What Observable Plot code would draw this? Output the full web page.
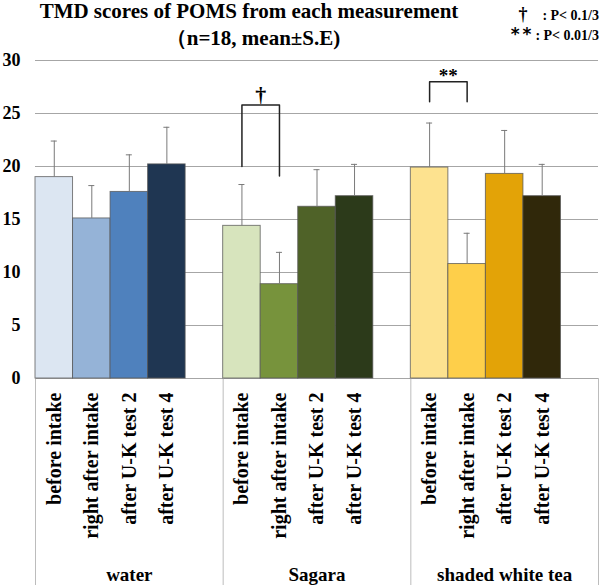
<!DOCTYPE html>
<html><head><meta charset="utf-8">
<script src="https://cdn.jsdelivr.net/npm/d3@7"></script>
<script src="https://cdn.jsdelivr.net/npm/@observablehq/plot@0.6"></script>
<style>
body{margin:0;background:#fff;}
#wrap{width:600px;height:585px;position:relative;font-family:"Liberation Serif","Times New Roman",serif;font-weight:bold;color:#000;overflow:hidden;}
#head{position:relative;width:600px;height:50px;}
.t{position:absolute;white-space:nowrap;}
#chart svg text{font-family:"Liberation Serif","Times New Roman",serif;font-weight:bold;}
#chart svg text.sans{font-family:"DejaVu Sans",sans-serif;}
</style></head><body>
<div id="wrap">
  <div id="head">
    <div class="t" style="left:0;width:498px;text-align:center;top:3px;font-size:21px;line-height:17px;">TMD scores of POMS from each measurement</div>
    <div class="t" style="left:0;width:506px;text-align:center;top:30px;font-size:21px;line-height:17px;">（n=18, mean±S.E)</div>
    <div class="t" style="right:1px;top:7px;font-size:14px;line-height:14px;"><span style="font-size:18px;line-height:14px">†</span><span style="margin-left:15px">: P&lt; 0.1/3</span></div>
    <div class="t" style="right:1px;top:27px;font-size:14px;line-height:14px;"><span style="font-family:'DejaVu Sans';font-size:17px;line-height:14px;letter-spacing:3px">**</span><span style="margin-left:1px">: P&lt; 0.01/3</span></div>
  </div>
  <div id="chart"></div>
</div>
<script>
const groups = ["water", "Sagara", "shaded white tea"];
const measurements = ["before intake", "right after intake", "after U-K test 2", "after U-K test 4"];
const waterMean = [19.0, 15.1, 17.6, 20.2];
const waterUpper = [22.4, 18.2, 21.1, 23.7];
const sagaraMean = [14.4, 8.9, 16.2, 17.2];
const sagaraUpper = [18.3, 11.9, 19.7, 20.2];
const shadedMean = [19.9, 10.8, 19.3, 17.2];
const shadedUpper = [24.1, 13.7, 23.4, 20.2];
const waterColors = ["#dce6f2", "#95b3d7", "#4f81bd", "#1f3652"];
const sagaraColors = ["#d7e4bd", "#77933c", "#4f6228", "#2c3a1a"];
const shadedColors = ["#fde28f", "#fecf4a", "#e3a307", "#30280a"];
const yTicks = [0, 5, 10, 15, 20, 25, 30];
// significance brackets (between "before intake" and "right after intake")
const sigGroups = ["Sagara", "shaded white tea"];
const sigLabels = ["†", "**"];
const sigTop = [25.8, 28.0];
const sigLeftEnd = [20.0, 26.1];
const sigRightEnd = [19.1, 26.1];

const slots = measurements.length + 1; // 4 bars + an empty slot per group
const means = [waterMean, sagaraMean, shadedMean];
const uppers = [waterUpper, sagaraUpper, shadedUpper];
const colors = [waterColors, sagaraColors, shadedColors];

const data = [];
groups.forEach((g, gi) => measurements.forEach((m, mi) => {
  data.push({group: g, measurement: m, pos: gi * slots + mi, mean: means[gi][mi], upper: uppers[gi][mi], color: colors[gi][mi]});
}));

const bracketPts = [];
const bracketLbl = [];
sigGroups.forEach((g, i) => {
  const gi = groups.indexOf(g);
  const lx = gi * slots + 0.5, rx = gi * slots + 1.5;
  bracketPts.push({id: i, x: lx, y: sigLeftEnd[i]}, {id: i, x: lx, y: sigTop[i]}, {id: i, x: rx, y: sigTop[i]}, {id: i, x: rx, y: sigRightEnd[i]});
  bracketLbl.push({id: i, x: gi * slots + 1, y: sigTop[i], label: sigLabels[i]});
});
const seps = d3.range(groups.length + 1).map(i => i * slots);
const groupLbl = groups.map((g, gi) => ({group: g, x: gi * slots + slots / 2}));
const serif = "'Liberation Serif', 'Times New Roman', serif";

const chart = Plot.plot({
  width: 600, height: 535,
  marginTop: 10, marginBottom: 207, marginLeft: 35, marginRight: 2,
  style: {fontFamily: serif, fontWeight: "bold", fontSize: "18px", color: "#000", background: "#fff", overflow: "visible"},
  x: {type: "linear", domain: [0, groups.length * slots]},
  y: {domain: [0, 30]},
  color: {type: "identity"},
  marks: [
    Plot.gridY(yTicks, {stroke: "#a6a6a6", strokeOpacity: 1, strokeWidth: 1}),
    Plot.axisY({ticks: yTicks, tickSize: 0, tickPadding: 15, fontSize: 18, fontFamily: serif, fontWeight: "bold", label: null}),
    Plot.axisX({ticks: seps, tickSize: 207, tickFormat: () => "", label: null, stroke: "#bcbcbc", strokeOpacity: 1}),
    Plot.rectY(data, {x1: d => d.pos, x2: d => d.pos + 1, y: "mean", fill: "color", stroke: "#555", strokeOpacity: 0.75, strokeWidth: 1}),
    Plot.ruleX(data, {x: d => d.pos + 0.5, y1: "mean", y2: "upper", stroke: "#7a7a7a", strokeWidth: 1}),
    Plot.ruleY(data, {x1: d => d.pos + 0.42, x2: d => d.pos + 0.58, y: "upper", stroke: "#7a7a7a", strokeWidth: 1}),
    Plot.line(bracketPts, {x: "x", y: "y", z: "id", stroke: "#222", strokeWidth: 1.5}),
    Plot.text(bracketLbl.filter(d => d.label === "†"), {x: "x", y: "y", text: "label", lineAnchor: "bottom", dy: -3, fontSize: 22, fontFamily: serif, fontWeight: "bold"}),
    Plot.text(bracketLbl.filter(d => d.label !== "†"), {x: "x", y: "y", text: "label", lineAnchor: "bottom", dy: 0, fontSize: 19, fontFamily: "'DejaVu Sans', sans-serif", fontWeight: "bold", className: "sans"}),
    Plot.text(data, {x: d => d.pos + 0.5, frameAnchor: "bottom", text: "measurement", rotate: -90, textAnchor: "end", lineAnchor: "middle", dy: 14, fontSize: 20, fontFamily: serif, fontWeight: "bold"}),
    Plot.text(groupLbl, {x: "x", frameAnchor: "bottom", text: "group", lineAnchor: "bottom", dy: 202, fontSize: 19, fontFamily: serif, fontWeight: "bold"})
  ]
});
document.getElementById("chart").appendChild(chart);
</script>
</body></html>
